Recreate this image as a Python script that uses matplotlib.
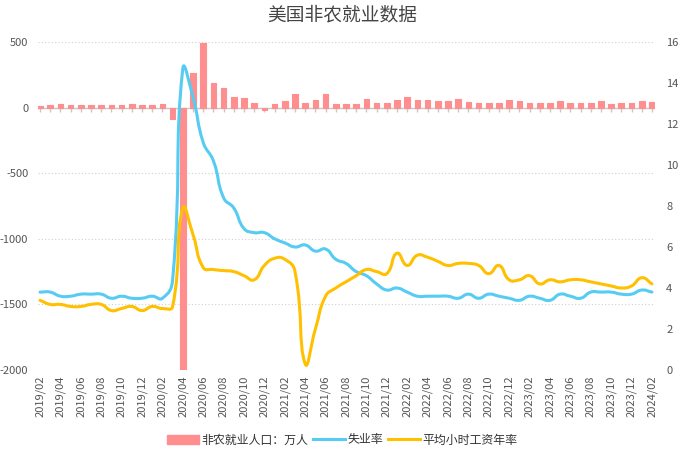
import numpy as np
import pandas as pd
import matplotlib
matplotlib.use("Agg")
import matplotlib.pyplot as plt
import matplotlib.patches as mpatches
from matplotlib.lines import Line2D
from matplotlib.path import Path

plt.rcParams['font.family'] = ['Noto Sans CJK SC', 'DejaVu Sans']
plt.rcParams['axes.unicode_minus'] = False

# 月份 2019/02 - 2024/02
months = list(pd.date_range('2019-02-01', '2024-02-01', freq='MS').strftime('%Y/%m'))

# 非农就业人口变化（万人）
payroll = [12, 22, 25, 17, 22, 20, 17, 18, 20, 25, 17, 22, 26,
           -90, -2050, 264, 490, 185, 150, 80, 74, 36, -22, 28,
           50, 100, 38, 60, 100, 30, 30, 25,
           65, 32, 32, 58, 82, 58, 58, 52, 52, 65, 45, 36, 36, 36, 60,
           48, 36, 36, 36, 48, 32, 32, 36, 48, 30, 32, 36, 50, 45]

# 失业率 %
unemp = [3.8, 3.8, 3.6, 3.6, 3.7, 3.7, 3.7, 3.5, 3.6, 3.5, 3.5, 3.6, 3.5,
         4.4, 14.7, 13.3, 11.1, 10.2, 8.4, 7.9, 6.9, 6.7, 6.7, 6.4, 6.2, 6.0,
         6.1, 5.8, 5.9, 5.4, 5.2, 4.8, 4.6, 4.2, 3.9,
         4.0, 3.8, 3.6, 3.6, 3.6, 3.6, 3.5, 3.7, 3.5, 3.7, 3.6, 3.5,
         3.4, 3.6, 3.5, 3.4, 3.7, 3.6, 3.5, 3.8, 3.8, 3.8, 3.7, 3.7, 3.9, 3.8]

# 平均小时工资年率 %
wage = [3.4, 3.2, 3.2, 3.1, 3.1, 3.2, 3.2, 2.9, 3.0, 3.1, 2.9, 3.1, 3.0,
        3.1, 7.9, 6.6, 5.0, 4.9, 4.85, 4.8, 4.6, 4.4, 5.1, 5.45, 5.4, 4.8,
        0.3, 2.0, 3.6, 4.0, 4.3, 4.6, 4.9, 4.8, 4.7,
        5.7, 5.1, 5.6, 5.5, 5.3, 5.1, 5.2, 5.2, 5.1, 4.7, 5.1, 4.4,
        4.4, 4.6, 4.2, 4.4, 4.3, 4.4, 4.4, 4.3, 4.2, 4.1, 4.0, 4.1, 4.5, 4.2]

labels = ['非农就业人口：万人', '失业率', '平均小时工资年率']
c_bar = '#FF8F8F'
c_blue = '#56CCF2'
c_yel = '#FFC000'

W, H = 684, 454
L, R, T, B = 38, 655, 42, 370


def smooth_path(x, y, sx, sy, smooth=0.5):
    # echarts-like bezier smoothing
    pts = np.column_stack([x, y]).astype(float)
    n = len(pts)
    cin, cout = [], []
    for i in range(n):
        p = pts[i]
        pv = pts[max(i - 1, 0)]
        nx = pts[min(i + 1, n - 1)]
        v = (nx - pv) * smooth
        d0 = np.hypot((p - pv)[0] * sx, (p - pv)[1] * sy)
        d1 = np.hypot((nx - p)[0] * sx, (nx - p)[1] * sy)
        tot = d0 + d1
        r0 = d0 / tot if tot else 0
        r1 = d1 / tot if tot else 0
        cin.append(p - v * r0)
        cout.append(p + v * r1)
    verts = [pts[0]]
    codes = [Path.MOVETO]
    for i in range(n - 1):
        verts += [cout[i], cin[i + 1], pts[i + 1]]
        codes += [Path.CURVE4] * 3
    return Path(verts, codes)


fig = plt.figure(figsize=(W / 100, H / 100), dpi=100)
ax = fig.add_axes([L / W, 1 - B / H, (R - L) / W, (B - T) / H])
x = np.arange(len(months))
xlim = (-0.2, 60.3)
ax.set_xlim(*xlim)
ax.set_ylim(-2000, 500)

ax.bar(x, payroll, width=0.56, color=c_bar, edgecolor=c_bar, linewidth=0.8,
       joinstyle='round', zorder=2)
ax.axhline(0, color='#c8c8c8', linewidth=1, zorder=1)
ax.plot(x, np.zeros(len(x)), linestyle='none', marker=3, markersize=3,
        color='#c8c8c8', zorder=1)

ax.set_yticks([-2000, -1500, -1000, -500, 0, 500])
ax.yaxis.grid(True, linestyle=(0, (1, 2)), color='#cfcfcf', linewidth=0.8)
ax.set_axisbelow(True)
ax.tick_params(axis='y', length=0, pad=7, labelsize=8, labelcolor='#555555')
ax.set_xticks(x[::2])
ax.set_xticklabels(months[::2], rotation=90, fontsize=8, color='#555555')
ax.tick_params(axis='x', length=0, pad=4)
for s in ax.spines.values():
    s.set_visible(False)

ax2 = ax.twinx()
ax2.set_ylim(0, 16)
ax2.set_yticks(range(0, 17, 2))
ax2.tick_params(axis='y', length=0, pad=8, labelsize=8, labelcolor='#555555')
for s in ax2.spines.values():
    s.set_visible(False)

sx = (R - L) / (xlim[1] - xlim[0])
sy = (B - T) / 16
for vals, col in [(unemp, c_blue), (wage, c_yel)]:
    p = smooth_path(x, vals, sx, sy)
    ax2.add_patch(mpatches.PathPatch(p, fill=False, edgecolor=col, linewidth=2.2,
                                     capstyle='round', joinstyle='round', zorder=3))

fig.text(0.5, 1 - 15 / H, '美国非农就业数据', ha='center', va='center',
         fontsize=13.5, color='#444444')

handles = [mpatches.Patch(color=c_bar),
           Line2D([], [], color=c_blue, linewidth=2.2),
           Line2D([], [], color=c_yel, linewidth=2.2)]
fig.legend(handles, labels, loc='center', bbox_to_anchor=(0.5, 1 - 440 / H), ncol=3,
           frameon=False, fontsize=8.6, handlelength=2.7, handletextpad=0.15,
           columnspacing=0.45, labelcolor='#333333')

fig.savefig('out.png', dpi=100)
